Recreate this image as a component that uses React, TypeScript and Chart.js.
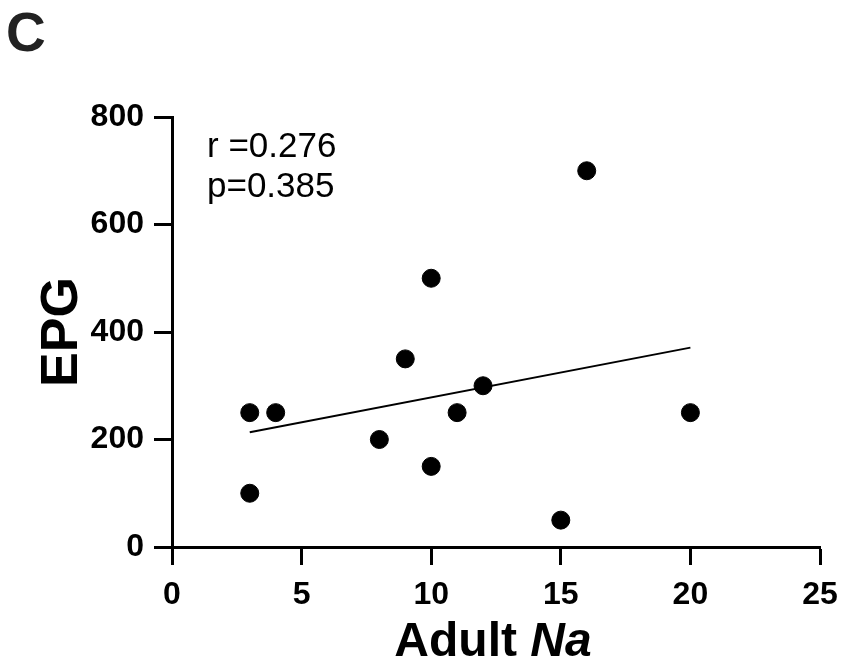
import React, { useEffect, useRef } from "react";
import { Chart, registerables } from "chart.js";

Chart.register(...registerables);

const adultNa = [3, 4, 3, 8, 9, 10, 10, 11, 12, 15, 16, 20];
const epg = [250, 250, 100, 200, 350, 500, 150, 250, 300, 50, 700, 250];
const fitX = [3, 20];
const fitY = [213.6, 370.9];
const xTicks = [0, 5, 10, 15, 20, 25];
const yTicks = [0, 200, 400, 600, 800];
const panelLabel = "C";
const statLines = ["r =0.276", "p=0.385"];
const yTitle = "EPG";
const xTitleA = "Adult ";
const xTitleB = "Na";

const FONT = "'Liberation Sans', Arial, Helvetica, sans-serif";

const textPlugin = {
  id: "textPlugin",
  afterDraw(chart: any) {
    const ctx = chart.ctx;
    const area = chart.chartArea;
    ctx.save();
    // panel label
    ctx.font = `bold 55px ${FONT}`;
    ctx.textAlign = "left";
    ctx.textBaseline = "alphabetic";
    ctx.fillStyle = "#222";
    ctx.fillText(panelLabel, 6, 51);
    ctx.fillStyle = "#000";
    // stats
    ctx.font = `35px ${FONT}`;
    ctx.fillText(statLines[0], 207, 157);
    ctx.fillText(statLines[1], 207, 197);
    // y title
    ctx.save();
    ctx.translate(77, (area.top + area.bottom) / 2);
    ctx.rotate(-Math.PI / 2);
    ctx.font = `bold 52px ${FONT}`;
    ctx.textAlign = "center";
    ctx.fillText(yTitle, 0, 0);
    ctx.restore();
    // x title
    const cx = (area.left + area.right) / 2 - 3;
    ctx.font = `bold 48px ${FONT}`;
    const wA = ctx.measureText(xTitleA).width;
    ctx.font = `italic bold 48px ${FONT}`;
    const wB = ctx.measureText(xTitleB).width;
    const start = cx - (wA + wB) / 2;
    ctx.textAlign = "left";
    ctx.font = `bold 48px ${FONT}`;
    ctx.fillText(xTitleA, start, 656);
    ctx.font = `italic bold 48px ${FONT}`;
    ctx.fillText(xTitleB, start + wA, 656);
    ctx.restore();
  },
};

export default function App() {
  const ref = useRef<HTMLCanvasElement>(null);
  useEffect(() => {
    if (!ref.current) return;
    const chart = new Chart(ref.current, {
      type: "scatter",
      data: {
        datasets: [
          {
            type: "scatter",
            data: adultNa.map((x, i) => ({ x, y: epg[i] })),
            backgroundColor: "#000",
            borderColor: "#000",
            pointRadius: 9,
            pointHoverRadius: 9,
          },
          {
            type: "line",
            data: fitX.map((x, i) => ({ x, y: fitY[i] })),
            borderColor: "#000",
            borderWidth: 2,
            pointRadius: 0,
            fill: false,
          } as any,
        ],
      },
      options: {
        animation: false,
        responsive: false,
        maintainAspectRatio: false,
        layout: { padding: { left: 0, top: 117, right: 21, bottom: 0 } },
        plugins: { legend: { display: false }, tooltip: { enabled: false } },
        scales: {
          x: {
            type: "linear",
            min: 0,
            max: 25,
            afterBuildTicks: (s: any) => {
              s.ticks = xTicks.map((v) => ({ value: v }));
            },
            afterFit: (s: any) => {
              s.height = 122;
              s.paddingLeft = 0;
              s.paddingRight = 0;
            },
            border: { display: true, width: 3, color: "#000" },
            grid: {
              drawOnChartArea: false,
              drawTicks: true,
              tickLength: 18,
              tickWidth: 3,
              tickColor: "#000",
            },
            ticks: {
              color: "#000",
              font: { family: FONT, size: 32, weight: "bold" },
              padding: 11,
              maxRotation: 0,
            },
          },
          y: {
            type: "linear",
            min: 0,
            max: 800,
            afterBuildTicks: (s: any) => {
              s.ticks = yTicks.map((v) => ({ value: v }));
            },
            afterFit: (s: any) => {
              s.width = 172;
              s.paddingTop = 0;
              s.paddingBottom = 0;
            },
            border: { display: true, width: 3, color: "#000" },
            grid: {
              drawOnChartArea: false,
              drawTicks: true,
              tickLength: 18,
              tickWidth: 3,
              tickColor: "#000",
            },
            ticks: {
              color: "#000",
              font: { family: FONT, size: 32, weight: "bold" },
              padding: 10,
            },
          },
        },
      },
      plugins: [textPlugin],
    });
    return () => chart.destroy();
  }, []);
  return (
    <div style={{ position: "fixed", left: 0, top: 0, width: 841, height: 669, background: "#fff" }}>
      <canvas ref={ref} width={841} height={669} style={{ width: 841, height: 669 }} />
    </div>
  );
}
